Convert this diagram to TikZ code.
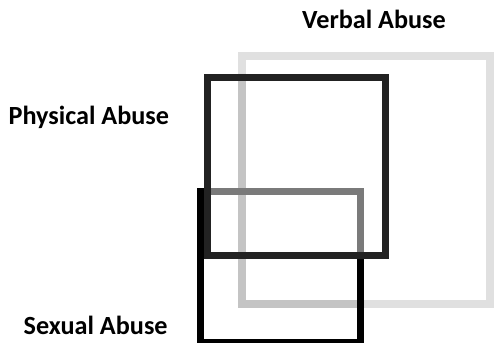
\documentclass[tikz,border=0pt]{standalone}
\usepackage{fontspec}
\setmainfont{Carlito}
\usepackage{xcolor}
\usepackage{tikz}
\definecolor{verballight}{HTML}{E0E0E0}
\definecolor{verbaldark}{HTML}{C4C4C4}
\definecolor{physdark}{HTML}{222222}
\definecolor{sexualmid}{HTML}{7A7A7A}

\begin{document}
\begin{tikzpicture}[
  x=1pt, y=-1pt,
  caption/.style={font=\bfseries\fontsize{26.2}{31}\selectfont, inner sep=0pt, anchor=base west},
  frame/.style={line width=7pt},
  vframe/.style={line width=8pt}
]
\useasboundingbox (0,0) rectangle (494,342);
\coordinate (verbal nw) at (242,56);
\coordinate (verbal se) at (490,304);
\coordinate (phys nw) at (207.5,77.5);
\coordinate (phys se) at (385.7,255.3);
\coordinate (sex nw) at (200.8,191.7);
\coordinate (sex se) at (360.7,342.5);

\draw[vframe, verballight] (verbal nw) rectangle (verbal se);
\begin{scope}
  \clip ([shift={(-3.5,-3.5)}]phys nw) rectangle ([shift={(3.5,3.5)}]phys se)
        ([shift={(-3.5,-3.5)}]sex nw) rectangle ([shift={(3.5,8)}]sex se);
  \draw[vframe, verbaldark] (verbal nw) rectangle (verbal se);
\end{scope}
\draw[frame, black] (sex nw) rectangle (sex se);
\begin{scope}
  \clip ([shift={(-3.5,-3.5)}]phys nw) rectangle ([shift={(3.5,3.5)}]phys se);
  \draw[frame, sexualmid] (sex nw) rectangle (sex se);
\end{scope}
\draw[frame, physdark] (phys nw) rectangle (phys se);

\node[caption] (verbal) at (302,28.5) {Verbal Abuse};
\node[caption] (physical) at (8.5,124) {Physical Abuse};
\node[caption] (sexual) at (23.5,334) {Sexual Abuse};
\end{tikzpicture}
\end{document}
